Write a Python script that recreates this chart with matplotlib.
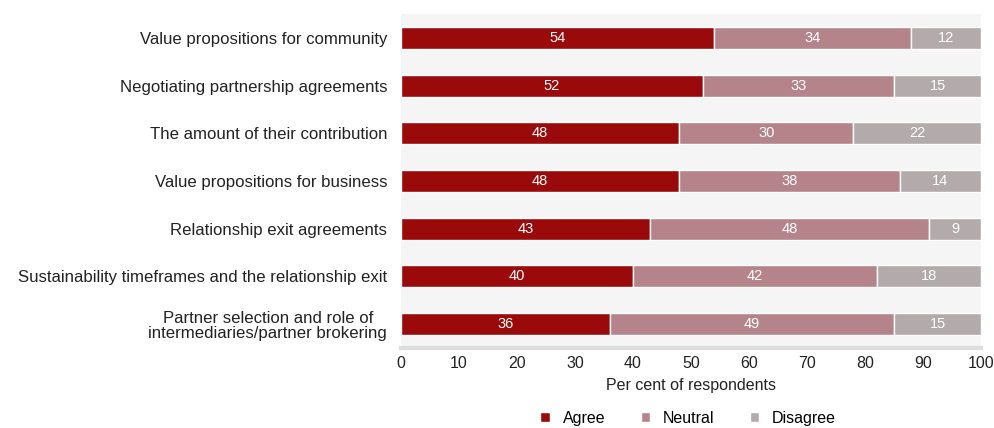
import numpy as np
import matplotlib.pyplot as plt

plt.rcParams['font.family'] = ['Liberation Sans', 'DejaVu Sans']

categories = [
    "Value propositions for community",
    "Negotiating partnership agreements",
    "The amount of their contribution",
    "Value propositions for business",
    "Relationship exit agreements",
    "Sustainability timeframes and the relationship exit",
    "Partner selection and role of\nintermediaries/partner brokering",
]
agree = [54, 52, 48, 48, 43, 40, 36]
neutral = [34, 33, 30, 38, 48, 42, 49]
disagree = [12, 15, 22, 14, 9, 18, 15]

colors = ["#9a0a0a", "#b5848b", "#b3abab"]
names = ["Agree", "Neutral", "Disagree"]

fig = plt.figure(figsize=(9.95, 4.28), dpi=100)
ax = fig.add_axes([0.403, 0.187, 0.583, 0.78])
ax.set_facecolor("#f6f5f5")

y = np.arange(len(categories))
left = np.zeros(len(categories))
for vals, c, n in zip([agree, neutral, disagree], colors, names):
    vals = np.array(vals)
    ax.barh(y, vals, left=left, height=0.46, color=c, label=n,
            edgecolor="white", linewidth=1.0)
    for yi, l, v in zip(y, left, vals):
        ax.text(l + v / 2, yi, str(v), ha="center", va="center",
                color="white", fontsize=10.5)
    left += vals

ax.set_ylim(len(categories) - 0.5, -0.5)
ax.set_xlim(0, 100)
ax.set_yticks(y)
ax.set_yticklabels(categories, fontsize=12.1, color="#222222",
                   multialignment="center", linespacing=1.0)
ax.set_xticks(range(0, 101, 10))
ax.tick_params(axis="x", labelsize=11.5, length=0, pad=6, colors="#222222")
ax.tick_params(axis="y", length=0, pad=10)
for s in ["top", "right", "left"]:
    ax.spines[s].set_visible(False)
ax.spines["bottom"].set_color("#dddddd")
ax.spines["bottom"].set_linewidth(3)
ax.set_xlabel("Per cent of respondents", fontsize=11.5, color="#222222",
              labelpad=5)

ax.legend(loc="center", bbox_to_anchor=(0.495, -0.21), ncol=3,
          frameon=False, fontsize=11.5, handlelength=0.6, handleheight=0.6,
          columnspacing=2.2, handletextpad=0.8)

fig.savefig("out.png", dpi=100, facecolor="white")
